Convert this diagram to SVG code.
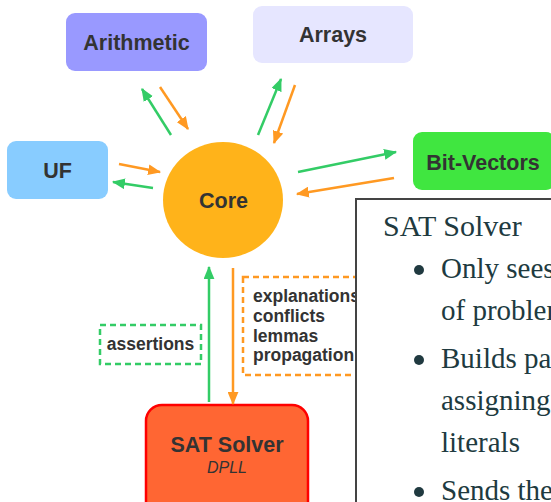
<svg xmlns="http://www.w3.org/2000/svg" width="551" height="502" viewBox="0 0 551 502">
<defs>
<style>
.lbl{font-family:"Liberation Sans",Arial,sans-serif;font-weight:bold;fill:#333;text-anchor:middle}
.big{font-size:21.5px}
.small{font-size:17.5px}
.g{stroke:#33cc66;stroke-width:2.5;fill:none}
.o{stroke:#ff9922;stroke-width:2.5;fill:none}
.serif{font-family:"Liberation Serif","Times New Roman",serif;fill:#203a40}
</style>
<marker id="ag" viewBox="0 0 12 10" refX="11" refY="5" markerWidth="13" markerHeight="11" markerUnits="userSpaceOnUse" orient="auto"><path d="M0,0 L12,5 L0,10 z" fill="#33cc66"/></marker>
<marker id="ao" viewBox="0 0 12 10" refX="11" refY="5" markerWidth="13" markerHeight="11" markerUnits="userSpaceOnUse" orient="auto"><path d="M0,0 L12,5 L0,10 z" fill="#ff9922"/></marker>
</defs>
<rect width="551" height="502" fill="#fff"/>
<g id="arithmetic"><rect x="66" y="13" width="141" height="58" rx="9" fill="#9999ff"/><text class="lbl big" x="136.5" y="50">Arithmetic</text></g>
<g id="arrays"><rect x="253" y="6" width="160" height="57" rx="9" fill="#e6e6ff"/><text class="lbl big" x="333" y="42">Arrays</text></g>
<g id="uf"><rect x="7" y="141" width="101" height="58" rx="9" fill="#88ccff"/><text class="lbl big" x="57.5" y="178">UF</text></g>
<g id="bitvectors"><rect x="413" y="132" width="142" height="58" rx="9" fill="#40e640"/><text class="lbl big" x="483" y="170">Bit-Vectors</text></g>
<g id="core"><ellipse cx="223" cy="200" rx="60" ry="58" fill="#ffb31a"/><text class="lbl big" x="223.5" y="208">Core</text></g>
<g id="sat"><rect x="146" y="405" width="162" height="120" rx="16" fill="#ff6633" stroke="#ff0000" stroke-width="2.5"/><text class="lbl big" x="227" y="452">SAT Solver</text><text x="227" y="473" font-family="Liberation Sans,Arial,sans-serif" font-style="italic" font-size="16" fill="#333" text-anchor="middle">DPLL</text></g>
<g id="connectors">
<line class="g" x1="171" y1="135" x2="142" y2="89" marker-end="url(#ag)"/>
<line class="o" x1="160" y1="87" x2="188" y2="129" marker-end="url(#ao)"/>
<line class="g" x1="258" y1="135" x2="281" y2="79" marker-end="url(#ag)"/>
<line class="o" x1="295" y1="85" x2="274" y2="143" marker-end="url(#ao)"/>
<line class="o" x1="119" y1="164" x2="160" y2="172" marker-end="url(#ao)"/>
<line class="g" x1="153" y1="188" x2="113" y2="182" marker-end="url(#ag)"/>
<line class="g" x1="298" y1="172" x2="396" y2="152" marker-end="url(#ag)"/>
<line class="o" x1="394" y1="178" x2="297" y2="194" marker-end="url(#ao)"/>
<line class="g" x1="209" y1="402" x2="209" y2="267" marker-end="url(#ag)"/>
<line class="o" x1="233" y1="268" x2="233" y2="404" marker-end="url(#ao)"/>
</g>
<g id="assertions"><rect x="100" y="325" width="101" height="39" fill="none" stroke="#33cc66" stroke-width="2.5" stroke-dasharray="6 4"/><text class="lbl small" x="150.5" y="350">assertions</text></g>
<g id="feedback"><rect x="243" y="277" width="140" height="98" fill="none" stroke="#ff9922" stroke-width="2.5" stroke-dasharray="6 4"/>
<text class="lbl small" style="text-anchor:start" x="253" y="302">explanations</text>
<text class="lbl small" style="text-anchor:start" x="253" y="322">conflicts</text>
<text class="lbl small" style="text-anchor:start" x="253" y="342">lemmas</text>
<text class="lbl small" style="text-anchor:start" x="253" y="361">propagation</text></g>
<g id="panel"><rect x="356" y="199" width="210" height="320" fill="#fff" stroke="#444" stroke-width="2"/>
<text class="serif" x="383" y="236" font-size="30">SAT Solver</text>
<circle cx="419" cy="270" r="5" fill="#203a40"/>
<circle cx="419" cy="360" r="5" fill="#203a40"/>
<circle cx="419" cy="492" r="5" fill="#203a40"/>
<text class="serif" font-size="29" x="441" y="278">Only sees</text>
<text class="serif" font-size="29" x="441" y="320">of problem</text>
<text class="serif" font-size="29" x="441" y="368">Builds pa</text>
<text class="serif" font-size="29" x="441" y="410">assigning</text>
<text class="serif" font-size="29" x="441" y="452">literals</text>
<text class="serif" font-size="29" x="441" y="500">Sends the</text>
</g>
</svg>
